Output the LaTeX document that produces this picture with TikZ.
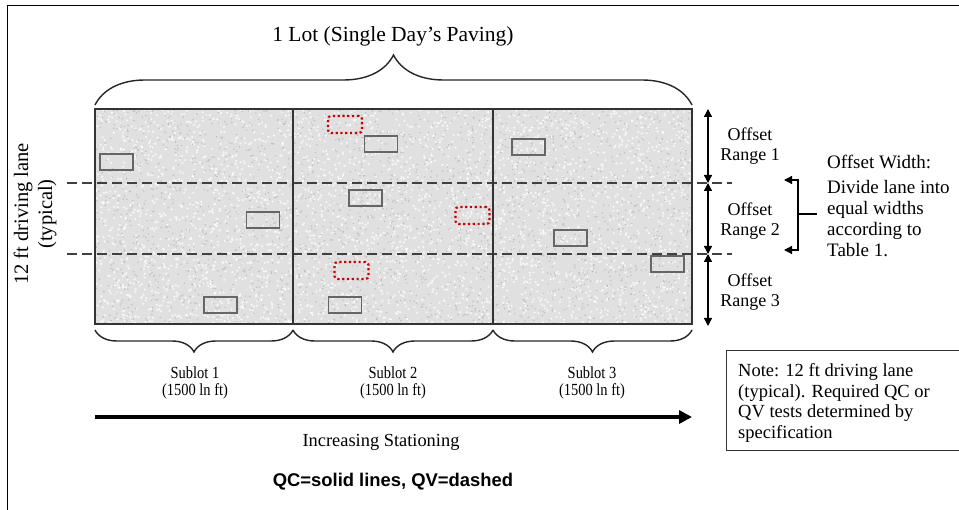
\documentclass[tikz,border=0pt]{standalone}
\usepackage{fontspec}
\setmainfont{Liberation Serif}
\newfontfamily\arialfont{Liberation Sans}
\newfontfamily\condfont[FakeStretch=0.85]{Liberation Serif}
\usetikzlibrary{arrows.meta,decorations.pathreplacing}
\begin{document}
\begin{tikzpicture}[x=1pt,y=-1pt,
  qc/.style={draw=black!60, line width=1.8pt, minimum width=33pt, minimum height=16pt, inner sep=0pt},
  qv/.style={draw=red!80!black, line width=2.2pt, dash pattern=on 2.2pt off 2.6pt, rounded corners=3pt, minimum width=34pt, minimum height=17pt, inner sep=0pt},
  dbl/.style={{Triangle[length=8pt,width=8pt]}-{Triangle[length=8pt,width=8pt]}, line width=1.3pt},
  lanedash/.style={black!75, line width=1.5pt, dash pattern=on 10pt off 5pt},
  outline/.style={black!80, line width=1.5pt},
  bracedeco/.style={decorate, line width=1.4pt, black!85},
  offsetlbl/.style={anchor=north, align=center, inner sep=0pt, font=\fontsize{18}{19.5}\selectfont},
  sublbl/.style={anchor=north, align=center, inner sep=0pt, font=\condfont\fontsize{17}{16.5}\selectfont}]
\useasboundingbox (0,0) rectangle (959,510);
% outer frame (top and left edges)
\draw[line width=1.6pt] (7.3,512) -- (7.3,5.5) -- (961,5.5);

% pavement
\coordinate (TL) at (95,109);
\coordinate (BR) at (692,324);
\fill[black!12] (TL) rectangle (BR);
\begin{scope}
  \clip (TL) rectangle (BR);
  \pgfmathsetseed{42}
  \foreach \i in {1,...,3400} {\fill[white, opacity=0.75] (95+597*rnd,109+215*rnd) circle (1.2pt);}
  \foreach \i in {1,...,2200} {\fill[black!26] (95+597*rnd,109+215*rnd) circle (0.8pt);}
\end{scope}

% offset range dashed lines
\coordinate (d1l) at (67,183);  \coordinate (d1r) at (732,183);
\coordinate (d2l) at (67,254);  \coordinate (d2r) at (732,254);
\draw[lanedash] (d1l) -- (d1r);
\draw[lanedash] (d2l) -- (d2r);

% sublot dividers and outline
\coordinate (s1t) at (293,109); \coordinate (s1b) at (293,324);
\coordinate (s2t) at (493,109); \coordinate (s2b) at (493,324);
\draw[outline] (s1t) -- (s1b);
\draw[outline] (s2t) -- (s2b);
\draw[outline] (TL) rectangle (BR);

% QC samples
\node[qc] (qc1) at (116.5,162) {};
\node[qc] (qc2) at (381,144) {};
\node[qc] (qc3) at (528.5,147) {};
\node[qc] (qc4) at (365.5,198) {};
\node[qc] (qc5) at (263,220) {};
\node[qc] (qc6) at (220.5,305) {};
\node[qc] (qc7) at (345,305) {};
\node[qc] (qc8) at (570.5,238) {};
\node[qc] (qc9) at (667.5,264) {};
% QV samples
\node[qv] (qv1) at (345,124.5) {};
\node[qv] (qv2) at (351.5,270.5) {};
\node[qv] (qv3) at (472.5,215.5) {};

% title and top brace
\node[anchor=base, inner sep=0pt, font=\fontsize{21.5}{24}\selectfont] (title) at (393,41.7) {1 Lot (Single Day’s Paving)};
\coordinate (bl) at (95,105); \coordinate (br) at (692,105);
\draw[bracedeco, decoration={brace, amplitude=50pt}] (bl) -- (br);

% lane label
\node[rotate=90, align=center, inner sep=0pt, font=\fontsize{20.5}{24}\selectfont] (lane) at (35,214) {12 ft driving lane\\(typical)};

% offset range arrows
\coordinate (a0) at (708,109);
\coordinate (a1) at (708,183);
\coordinate (a2) at (708,254);
\coordinate (a3) at (708,326);
\draw[dbl] (a0) -- (a1);
\draw[dbl] (a1) -- (a2);
\draw[dbl] (a2) -- (a3);
\node[offsetlbl] (or1) at (750,127.7) {Offset\\Range 1};
\node[offsetlbl] (or2) at (750,202.7) {Offset\\Range 2};
\node[offsetlbl] (or3) at (750,273.7) {Offset\\Range 3};

% offset width bracket
\coordinate (bt) at (784,180); \coordinate (btc) at (798,180);
\coordinate (bb) at (784,250); \coordinate (bbc) at (798,250);
\coordinate (bm) at (798,214); \coordinate (bs) at (817,214);
\draw[line width=1.3pt, {Triangle[length=8pt,width=8pt]}-{Triangle[length=8pt,width=8pt]}] (bt) -- (btc) -- (bbc) -- (bb);
\draw[line width=1.3pt] (bm) -- (bs);
\node[anchor=north west, align=left, inner sep=0pt, font=\fontsize{19}{21}\selectfont] (owidth) at (827,155) {Offset Width:\\[4pt]Divide lane into\\equal widths\\according to\\Table 1.};

% sublot braces and labels
\coordinate (u0) at (95,330); \coordinate (u1) at (293,330);
\coordinate (u2) at (493,330); \coordinate (u3) at (692,330);
\draw[bracedeco, decoration={brace, amplitude=22pt}] (u1) -- (u0);
\draw[bracedeco, decoration={brace, amplitude=22pt}] (u2) -- (u1);
\draw[bracedeco, decoration={brace, amplitude=22pt}] (u3) -- (u2);
\node[sublbl] (sl1) at (195,366.7) {Sublot 1\\(1500 ln ft)};
\node[sublbl] (sl2) at (393,366.7) {Sublot 2\\(1500 ln ft)};
\node[sublbl] (sl3) at (592,366.7) {Sublot 3\\(1500 ln ft)};

% stationing arrow
\coordinate (st0) at (95,417); \coordinate (st1) at (692,417);
\draw[line width=4.3pt, -{Triangle[length=13pt,width=13pt]}] (st0) -- (st1);
\node[anchor=base, inner sep=0pt, font=\fontsize{18.4}{20}\selectfont] (inc) at (381,447) {Increasing Stationing};
\node[anchor=base, inner sep=0pt, font=\arialfont\bfseries\fontsize{18.4}{20}\selectfont] (legend) at (393,487) {QC=solid lines, QV=dashed};

% note box
\node[draw=black!80, line width=1.3pt, anchor=north west, minimum width=250pt, minimum height=100pt, inner sep=0pt] (notebox) at (726,350) {};
\node[anchor=north west, align=left, inner sep=0pt, font=\fontsize{18.5}{20.5}\selectfont] (notetext) at (738,363.4) {Note: 12 ft driving lane\\(typical). Required QC or\\QV tests determined by\\specification};
\end{tikzpicture}
\end{document}
